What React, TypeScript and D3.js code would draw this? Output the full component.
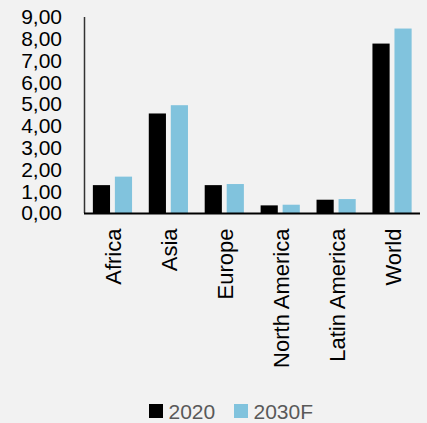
import React from "react";
import * as d3 from "d3";

const categories = ["Africa", "Asia", "Europe", "North America", "Latin America", "World"];
const series = ["2020", "2030F"];
const values2020 = [1.28, 4.57, 1.28, 0.35, 0.61, 7.78];
const values2030F = [1.67, 4.95, 1.33, 0.38, 0.64, 8.47];
const yTicks = [0, 1, 2, 3, 4, 5, 6, 7, 8, 9];
const colors = ["#000000", "#81C3DD"];

const W = 427;
const H = 423;
const FONT = "'Liberation Sans', Arial, sans-serif";

export default function App() {
  const x = d3.scaleBand<string>().domain(categories).range([84.5, 420]).paddingInner(0).paddingOuter(0);
  const xs = d3.scaleBand<string>().domain(series).range([0, x.bandwidth()]).paddingInner(0.22).paddingOuter(0.38);
  const y = d3.scaleLinear().domain([0, 9]).range([213, 17]);
  const data = [values2020, values2030F];
  const fmt = (v: number) => v.toFixed(2).replace(".", ",");

  return (
    <svg width={W} height={H} style={{ position: "absolute", left: 0, top: 0 }} fontFamily={FONT}>
      <rect x={0} y={0} width={W} height={H} fill="#F2F2F2" />
      {series.map((s, si) =>
        categories.map((c, ci) => (
          <rect
            key={s + c}
            x={(x(c) as number) + (xs(s) as number)}
            y={y(data[si][ci])}
            width={xs.bandwidth()}
            height={y(0) - y(data[si][ci])}
            fill={colors[si]}
          />
        ))
      )}
      <line x1={84.5} x2={84.5} y1={y(9)} y2={y(0)} stroke="#333" strokeWidth={1.5} />
      <line x1={84} x2={420} y1={y(0) + 0.5} y2={y(0) + 0.5} stroke="#000" strokeWidth={2} />
      {yTicks.map((t) => (
        <text key={t} x={62} y={y(t)} dy="0.35em" textAnchor="end" fontSize={21} fill="#000">
          {fmt(t)}
        </text>
      ))}
      {categories.map((c) => {
        const cx = (x(c) as number) + x.bandwidth() / 2 + 1;
        return (
          <text
            key={c}
            transform={`translate(${cx},228.5) rotate(-90)`}
            dy="0.35em"
            textAnchor="end"
            fontSize={22}
            fill="#000"
          >
            {c}
          </text>
        );
      })}
      {series.map((s, i) => {
        const lx = i === 0 ? 149 : 234;
        return (
          <g key={s}>
            <rect x={lx} y={404} width={14} height={14} fill={colors[i]} />
            <text x={lx + 19.5} y={419} fontSize={21} fill="#595959">
              {s}
            </text>
          </g>
        );
      })}
    </svg>
  );
}
